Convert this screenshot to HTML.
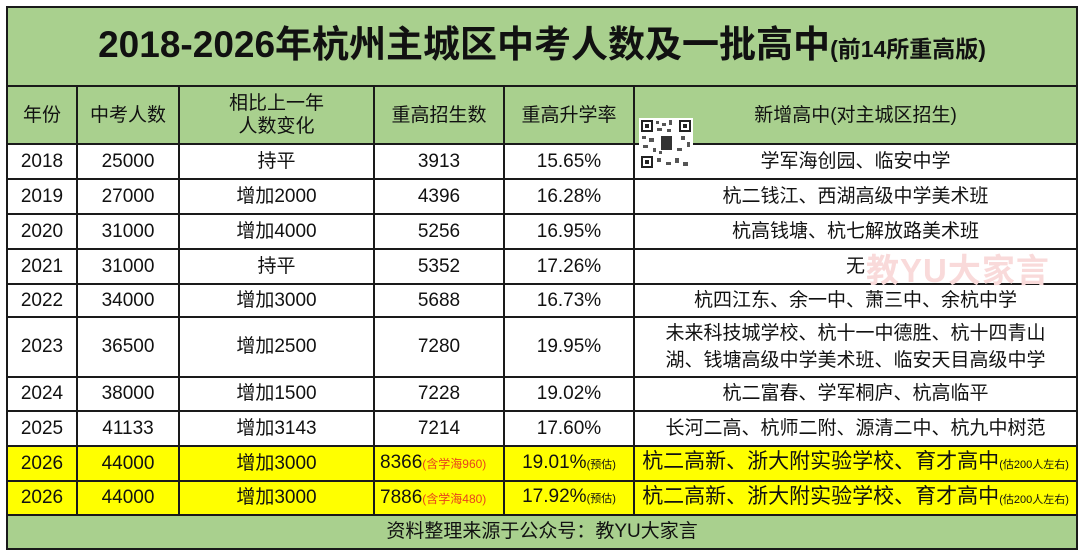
<!DOCTYPE html>
<html><head><meta charset="utf-8">
<style>
body{margin:0;width:1080px;height:556px;background:#fff;position:relative;overflow:hidden;font-family:"Liberation Sans","Noto Sans CJK SC",sans-serif;}
table{position:absolute;left:6px;top:6px;width:1070px;border-collapse:collapse;table-layout:fixed;}
td{border:2px solid #1a1a1a;text-align:center;padding:0;font-size:19px;line-height:22px;color:#111;white-space:nowrap;overflow:hidden;}
.g td,.g{background:#a9d08e;}
.y td{background:#ffff00;}
.title{font-size:37px;font-weight:bold;line-height:44px;}
.title small{font-size:23px;}
.hd td{font-size:19px;line-height:23px;}
.red{color:#e8431c;font-size:12px;}
.sm{font-size:11px;}
.wm{position:absolute;left:866px;top:244px;font-size:33px;font-weight:bold;color:#f9dada;letter-spacing:1px;}
.qr{position:absolute;left:639px;top:118px;width:54px;height:52px;background:#fff;}
</style></head><body>
<table>
<colgroup><col style="width:70px"><col style="width:102px"><col style="width:195px"><col style="width:130px"><col style="width:130px"><col style="width:443px"></colgroup>
<tr class="g" style="height:79px"><td colspan="6" class="title">2018-2026年杭州主城区中考人数及一批高中<small>(前14所重高版)</small></td></tr>
<tr class="g hd" style="height:58px"><td>年份</td><td>中考人数</td><td>相比上一年<br>人数变化</td><td>重高招生数</td><td>重高升学率</td><td>新增高中(对主城区招生)</td></tr>
<tr style="height:35px"><td>2018</td><td>25000</td><td>持平</td><td>3913</td><td>15.65%</td><td>学军海创园、临安中学</td></tr>
<tr style="height:35px"><td>2019</td><td>27000</td><td>增加2000</td><td>4396</td><td>16.28%</td><td>杭二钱江、西湖高级中学美术班</td></tr>
<tr style="height:35px"><td>2020</td><td>31000</td><td>增加4000</td><td>5256</td><td>16.95%</td><td>杭高钱塘、杭七解放路美术班</td></tr>
<tr style="height:35px"><td>2021</td><td>31000</td><td>持平</td><td>5352</td><td>17.26%</td><td>无</td></tr>
<tr style="height:33px"><td>2022</td><td>34000</td><td>增加3000</td><td>5688</td><td>16.73%</td><td>杭四江东、余一中、萧三中、余杭中学</td></tr>
<tr style="height:60px"><td>2023</td><td>36500</td><td>增加2500</td><td>7280</td><td>19.95%</td><td style="line-height:27px">未来科技城学校、杭十一中德胜、杭十四青山<br>湖、钱塘高级中学美术班、临安天目高级中学</td></tr>
<tr style="height:34px"><td>2024</td><td>38000</td><td>增加1500</td><td>7228</td><td>19.02%</td><td>杭二富春、学军桐庐、杭高临平</td></tr>
<tr style="height:35px"><td>2025</td><td>41133</td><td>增加3143</td><td>7214</td><td>17.60%</td><td>长河二高、杭师二附、源清二中、杭九中树范</td></tr>
<tr class="y" style="height:35px"><td>2026</td><td>44000</td><td>增加3000</td><td style="text-align:left;padding-left:5px">8366<span class="red">(含学海960)</span></td><td>19.01%<span class="sm">(预估)</span></td><td style="font-size:21px">杭二高新、浙大附实验学校、育才高中<span class="sm">(估200人左右)</span></td></tr>
<tr class="y" style="height:34px"><td>2026</td><td>44000</td><td>增加3000</td><td style="text-align:left;padding-left:5px">7886<span class="red">(含学海480)</span></td><td>17.92%<span class="sm">(预估)</span></td><td style="font-size:21px">杭二高新、浙大附实验学校、育才高中<span class="sm">(估200人左右)</span></td></tr>
<tr class="g" style="height:34px"><td colspan="6">资料整理来源于公众号：教YU大家言</td></tr>
</table>
<div class="wm">教YU大家言</div>
<svg class="qr" viewBox="0 0 54 52" width="54" height="52">
<rect x="2" y="2" width="12" height="12" fill="#222"/><rect x="4" y="4" width="8" height="8" fill="#fff"/><rect x="6" y="6" width="4" height="4" fill="#222"/>
<rect x="40" y="2" width="12" height="12" fill="#222"/><rect x="42" y="4" width="8" height="8" fill="#fff"/><rect x="44" y="6" width="4" height="4" fill="#222"/>
<rect x="2" y="38" width="12" height="12" fill="#222"/><rect x="4" y="40" width="8" height="8" fill="#fff"/><rect x="6" y="42" width="4" height="4" fill="#222"/>
<g fill="#555"><rect x="17" y="3" width="3" height="3"/><rect x="23" y="5" width="4" height="3"/><rect x="30" y="2" width="3" height="5"/><rect x="18" y="10" width="5" height="3"/><rect x="28" y="11" width="4" height="3"/><rect x="3" y="18" width="4" height="3"/><rect x="10" y="20" width="5" height="4"/><rect x="42" y="18" width="4" height="4"/><rect x="48" y="24" width="3" height="5"/><rect x="4" y="27" width="5" height="3"/><rect x="38" y="30" width="5" height="3"/><rect x="18" y="40" width="4" height="4"/><rect x="27" y="44" width="5" height="3"/><rect x="36" y="40" width="4" height="5"/><rect x="44" y="44" width="5" height="4"/><rect x="20" y="33" width="3" height="3"/><rect x="14" y="30" width="3" height="4"/></g>
<rect x="22" y="18" width="11" height="14" fill="#333"/>
</svg>
</body></html>
